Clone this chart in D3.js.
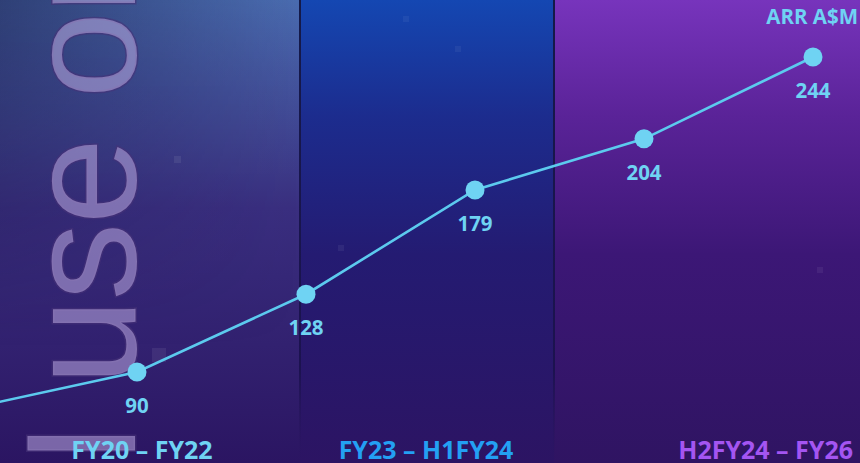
<!DOCTYPE html>
<html>
<head>
<meta charset="utf-8">
<script src="https://cdn.jsdelivr.net/npm/d3@7"></script>
<style>
  html, body { margin: 0; padding: 0; background: #2a1560; }
  svg { display: block; }
</style>
</head>
<body>
<svg id="chart" width="860" height="463"></svg>
<script>
// ---- data ----
const pointIndex = [0, 1, 2, 3, 4, 5];
const arrValues = [72, 90, 128, 179, 204, 244];
const showLabel = [false, true, true, true, true, true];
const periodLabels = ["FY20 – FY22", "FY23 – H1FY24", "H2FY24 – FY26"];
const unitLabel = "ARR A$M";
const watermarkParts = ["I ", "use on"];

const W = 860, H = 463;
const svg = d3.select("#chart");
const defs = svg.append("defs");

const x = d3.scaleLinear().domain([0, 5]).range([-32, 813]);
const y = d3.scaleLinear().domain([0, 244]).range([556, 57]);

// panel layout (background)
const panelEdges = [0, 300, 554, W];
const panelStyles = [
  { stops: [["0%", "#4a6cb0"], ["45%", "#3a2f80"], ["100%", "#2b1562"]], label: "#6fd3f3" },
  { stops: [["0%", "#1447b2"], ["25%", "#1c2c8e"], ["55%", "#241b72"], ["100%", "#2c1463"]], label: "#23a0f3" },
  { stops: [["0%", "#7734bc"], ["25%", "#5a2398"], ["55%", "#3c1776"], ["100%", "#2f1462"]], label: "#a455f2" }
];

panelStyles.forEach((p, i) => {
  const g = defs.append("linearGradient").attr("id", "pg" + i)
    .attr("x1", 0).attr("y1", 0).attr("x2", 0).attr("y2", 1);
  p.stops.forEach(s => g.append("stop").attr("offset", s[0]).attr("stop-color", s[1]));
});
const hg = defs.append("linearGradient").attr("id", "hshade")
  .attr("x1", 0).attr("y1", 0).attr("x2", 1).attr("y2", 0);
hg.append("stop").attr("offset", "0%").attr("stop-color", "#0e0a30").attr("stop-opacity", 0.45);
hg.append("stop").attr("offset", "100%").attr("stop-color", "#0e0a30").attr("stop-opacity", 0);
const vfadeW = defs.append("linearGradient").attr("id", "vfadeW")
  .attr("x1", 0).attr("y1", 0).attr("x2", 0).attr("y2", 1);
vfadeW.append("stop").attr("offset", "0%").attr("stop-color", "#fff");
vfadeW.append("stop").attr("offset", "75%").attr("stop-color", "#fff").attr("stop-opacity", 0);
const mask = defs.append("mask").attr("id", "m1");
mask.append("rect").attr("width", 300).attr("height", H).attr("fill", "url(#vfadeW)");

const bg = svg.append("g");
panelStyles.forEach((p, i) => {
  bg.append("rect")
    .attr("x", panelEdges[i]).attr("y", 0)
    .attr("width", panelEdges[i + 1] - panelEdges[i]).attr("height", H)
    .attr("fill", `url(#pg${i})`);
});
bg.append("rect").attr("x", 0).attr("y", 0).attr("width", 300).attr("height", H)
  .attr("fill", "url(#hshade)").attr("mask", "url(#m1)");

// separators
const sepG = defs.append("linearGradient").attr("id", "sepg")
  .attr("x1", 0).attr("y1", 0).attr("x2", 0).attr("y2", 1);
sepG.append("stop").attr("offset", "0%").attr("stop-color", "#141a48");
sepG.append("stop").attr("offset", "80%").attr("stop-color", "#1c1250");
sepG.append("stop").attr("offset", "100%").attr("stop-color", "#2a1460").attr("stop-opacity", 0);
[panelEdges[1], panelEdges[2]].forEach(e => {
  bg.append("rect").attr("x", e - 1).attr("y", 0).attr("width", 2).attr("height", H)
    .attr("fill", "url(#sepg)");
});

// faint decorative squares
const squares = [[174, 156, 7, 0.07], [338, 245, 6, 0.06], [403, 16, 6, 0.05], [455, 46, 6, 0.05], [817, 267, 6, 0.06], [152, 348, 14, 0.07]];
bg.selectAll("rect.sq").data(squares).join("rect").attr("class", "sq")
  .attr("x", d => d[0]).attr("y", d => d[1]).attr("width", d => d[2]).attr("height", d => d[2])
  .attr("fill", "#ffffff").attr("fill-opacity", d => d[3]);

// watermark rotated text
const wm = svg.append("text")
  .attr("transform", "translate(135,465) rotate(-90)")
  .attr("font-family", "Liberation Sans, Arial, sans-serif")
  .attr("font-size", 156)
  .attr("fill", "rgb(200,182,235)").attr("fill-opacity", 0.5)
  .attr("stroke", "rgb(70,50,120)").attr("stroke-opacity", 0.6).attr("stroke-width", 3)
  .attr("paint-order", "stroke")
  .attr("xml:space", "preserve")
  .style("white-space", "pre");
wm.append("tspan").text(watermarkParts[0]);
wm.append("tspan").attr("dx", -7).style("letter-spacing", "-2px").text(watermarkParts[1]);

// line
const line = d3.line().x((d, i) => x(pointIndex[i])).y(d => y(d));
svg.append("path").datum(arrValues)
  .attr("d", line)
  .attr("fill", "none")
  .attr("stroke", "#5ccaee")
  .attr("stroke-width", 2.6);

svg.selectAll("circle.pt").data(arrValues).join("circle").attr("class", "pt")
  .attr("cx", (d, i) => x(pointIndex[i])).attr("cy", d => y(d)).attr("r", 9.5)
  .attr("fill", "#6fd3f3");

const labelled = arrValues.map((v, i) => ({ v, i })).filter(d => showLabel[d.i]);
svg.selectAll("text.val").data(labelled).join("text").attr("class", "val")
  .attr("x", d => x(pointIndex[d.i]))
  .attr("y", d => y(d.v) + 41)
  .attr("text-anchor", "middle")
  .attr("font-family", "Open Sans, sans-serif")
  .attr("font-weight", 700)
  .attr("font-size", 20.5)
  .attr("fill", "#6fd3f3")
  .text(d => d.v);

// period labels
const labelAnchors = [["middle", 142], ["middle", 426], ["end", 853]];
svg.selectAll("text.per").data(periodLabels).join("text").attr("class", "per")
  .attr("x", (d, i) => labelAnchors[i][1])
  .attr("y", 458.5)
  .attr("text-anchor", (d, i) => labelAnchors[i][0])
  .attr("font-family", "Open Sans, sans-serif")
  .attr("font-weight", 700)
  .attr("font-size", 25)
  .attr("fill", (d, i) => panelStyles[i].label)
  .text(d => d);

// unit label
svg.append("text")
  .attr("x", 858).attr("y", 23.5)
  .attr("text-anchor", "end")
  .attr("font-family", "Open Sans, sans-serif")
  .attr("font-weight", 700)
  .attr("font-size", 20.5)
  .attr("fill", "#6fd3f3")
  .text(unitLabel);
</script>
</body>
</html>
